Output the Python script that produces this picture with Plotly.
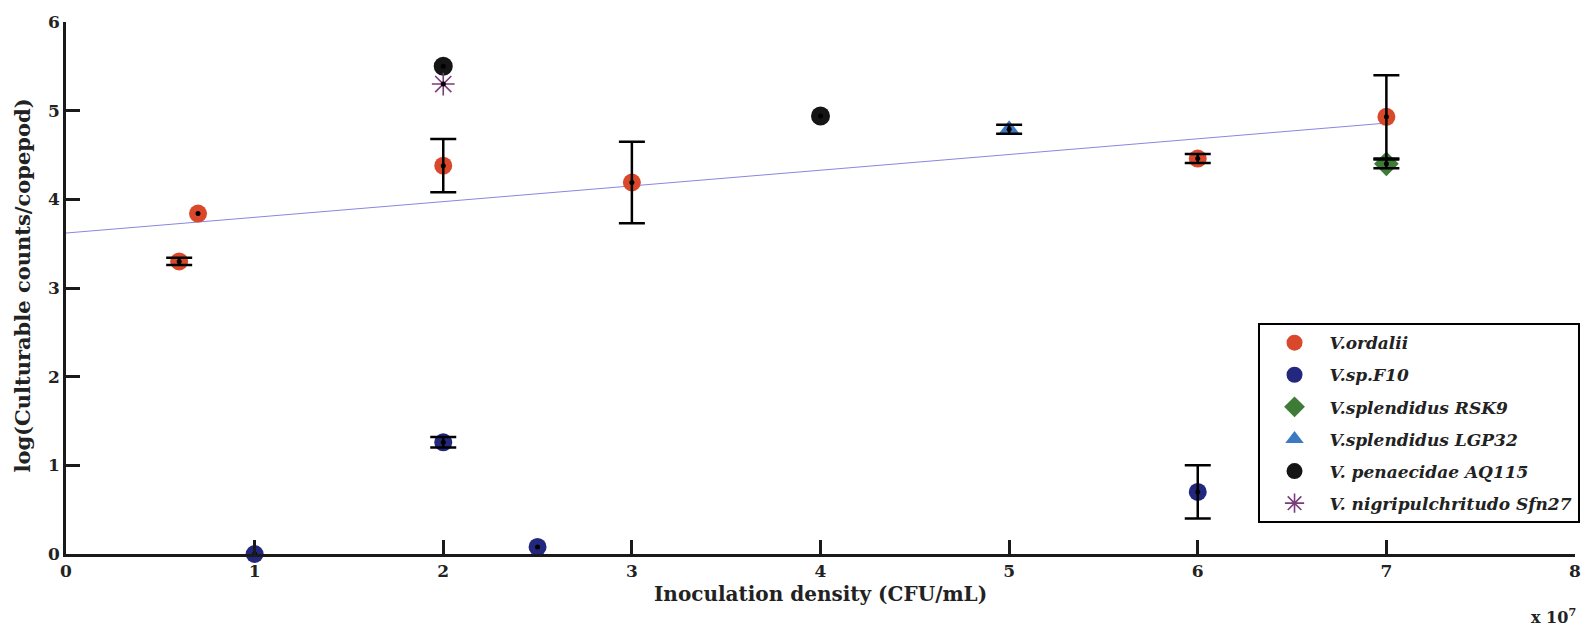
import plotly.graph_objects as go

# x values in units of 10^7 CFU/mL
ordalii_x = [0.6, 0.7, 2, 3, 6, 7]
ordalii_y = [3.30, 3.84, 4.38, 4.19, 4.46, 4.93]
ordalii_err = [0.04, 0.0, 0.30, 0.46, 0.05, 0.47]

f10_x = [1, 2, 2.5, 6]
f10_y = [0.0, 1.26, 0.08, 0.70]
f10_err = [0.0, 0.06, 0.0, 0.30]

rsk9_x = [7]
rsk9_y = [4.40]
rsk9_err = [0.05]

lgp32_x = [5]
lgp32_y = [4.79]
lgp32_err = [0.05]

aq115_x = [2, 4]
aq115_y = [5.50, 4.94]
aq115_err = [0.0, 0.0]

sfn27_x = [2]
sfn27_y = [5.30]
sfn27_err = [0.0]

trend_x = [0, 7]
trend_y = [3.62, 4.86]

x_ticks = [0, 1, 2, 3, 4, 5, 6, 7, 8]
y_ticks = [0, 1, 2, 3, 4, 5, 6]

series = [
    ("V.ordalii", ordalii_x, ordalii_y, ordalii_err, "circle", "#D9482B", 18),
    ("V.sp.F10", f10_x, f10_y, f10_err, "circle", "#23287E", 18),
    ("V.splendidus RSK9", rsk9_x, rsk9_y, rsk9_err, "diamond", "#3D7B37", 19),
    ("V.splendidus LGP32", lgp32_x, lgp32_y, lgp32_err, "triangle-up", "#3B79C2", 18),
    ("V. penaecidae AQ115", aq115_x, aq115_y, aq115_err, "circle", "#151515", 19),
    ("V. nigripulchritudo Sfn27", sfn27_x, sfn27_y, sfn27_err, "asterisk-open", "#7A3C7A", 19),
]

SERIF = "DejaVu Serif"
fig = go.Figure()

fig.add_trace(go.Scatter(x=trend_x, y=trend_y, mode="lines",
                         line=dict(color="#8A86E0", width=1),
                         showlegend=False, hoverinfo="skip"))

for i, (name, xs, ys, es, sym, col, sz) in enumerate(series):
    mk = dict(symbol=sym, color=col, size=sz)
    if sym == "asterisk-open":
        mk["line"] = dict(color=col, width=1.6)
    fig.add_trace(go.Scatter(x=xs, y=ys, mode="markers", name=name,
                             marker=mk, legendgroup=f"g{i}",
                             cliponaxis=False))

for i, (name, xs, ys, es, sym, col, sz) in enumerate(series):
    ex = [x for x, e in zip(xs, es) if e > 0]
    ey = [y for y, e in zip(ys, es) if e > 0]
    ee = [e for e in es if e > 0]
    if ex:
        fig.add_trace(go.Scatter(x=ex, y=ey, mode="markers",
                                 marker=dict(color="rgba(0,0,0,0)", size=1),
                                 error_y=dict(type="data", array=ee, visible=True,
                                              color="black", thickness=2.5, width=13),
                                 showlegend=False, cliponaxis=False,
                                 hoverinfo="skip"))
    fig.add_trace(go.Scatter(x=xs, y=ys, mode="markers",
                             marker=dict(color="black", size=5),
                             showlegend=False, cliponaxis=False,
                             hoverinfo="skip"))

fig.update_layout(
    width=1593, height=634,
    margin=dict(l=66, r=18, t=20, b=80),
    paper_bgcolor="white", plot_bgcolor="white",
    showlegend=True,
    legend=dict(x=1.003, xanchor="right", y=0.434, yanchor="top",
                bordercolor="black", borderwidth=2, bgcolor="white",
                tracegroupgap=7, itemwidth=60,
                font=dict(family=SERIF, size=17, color="#222",
                          weight="bold", style="italic")),
    xaxis=dict(range=[0, 8], tickvals=x_ticks, ticktext=[str(v) for v in x_ticks],
               showgrid=False, zeroline=False, showline=True, linecolor="#1a1a1a",
               linewidth=2.5, ticks="inside", ticklen=14, tickwidth=2.5,
               tickcolor="#1a1a1a",
               tickfont=dict(family=SERIF, size=17, color="#222", weight="bold")),
    yaxis=dict(range=[0, 6], tickvals=y_ticks, ticktext=[str(v) for v in y_ticks],
               showgrid=False, zeroline=False, showline=True, linecolor="#1a1a1a",
               linewidth=2.5, ticks="inside", ticklen=14, tickwidth=2.5,
               tickcolor="#1a1a1a",
               tickfont=dict(family=SERIF, size=17, color="#222", weight="bold")),
    annotations=[
        dict(text="Inoculation density (CFU/mL)", xref="paper", yref="paper",
             x=0.5, y=-0.075, xanchor="center", yanchor="middle", showarrow=False,
             font=dict(family=SERIF, size=20, color="#222", weight="bold")),
        dict(text="log(Culturable counts/copepod)", xref="paper", yref="paper",
             x=-0.029, y=0.505, xanchor="center", yanchor="middle", showarrow=False,
             textangle=-90,
             font=dict(family=SERIF, size=21, color="#222", weight="bold")),
        dict(text="x 10<sup>7</sup>", xref="paper", yref="paper",
             x=1.002, y=-0.117, xanchor="right", yanchor="middle", showarrow=False,
             font=dict(family=SERIF, size=16, color="#222", weight="bold")),
    ],
)

fig.write_html("out.html")
